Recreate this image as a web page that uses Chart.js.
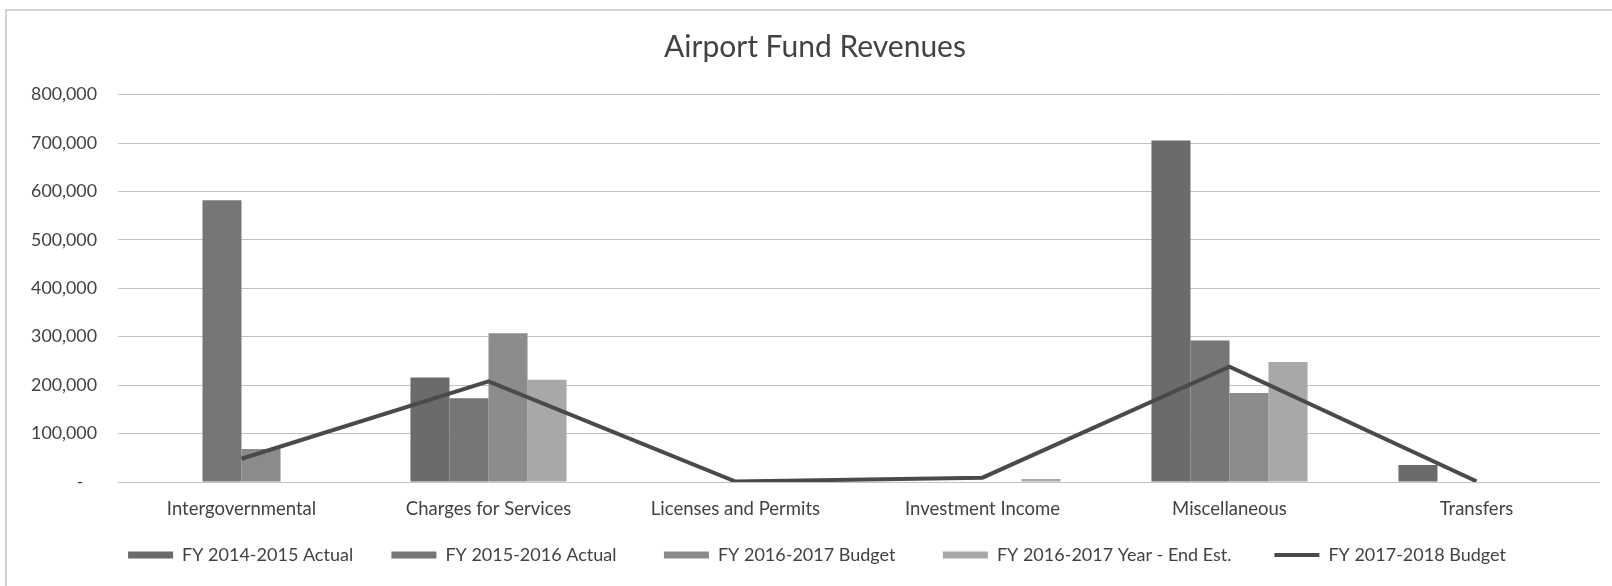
<!DOCTYPE html>
<html>
<head>
<meta charset="utf-8">
<title>Airport Fund Revenues</title>
<script src="https://cdn.jsdelivr.net/npm/chart.js@4.4.1/dist/chart.umd.min.js"></script>
<style>
  html, body { margin: 0; padding: 0; background: #ffffff; }
  #wrap { width: 1612px; height: 586px; position: relative; }
</style>
</head>
<body>
<div id="wrap"><canvas id="chart" width="1612" height="586"></canvas></div>
<script>
// Revenue categories along the x axis
const categories = [
  'Intergovernmental',
  'Charges for Services',
  'Licenses and Permits',
  'Investment Income',
  'Miscellaneous',
  'Transfers'
];

// Series values (dollars)
const fy1415Actual  = [0,      216000, 0,    0,     705000, 35000];
const fy1516Actual  = [582000, 173000, 0,    0,     292000, 0];
const fy1617Budget  = [68000,  307000, 0,    0,     184000, 0];
const fy1617YearEnd = [0,      211000, 0,    6000,  248000, 0];
const fy1718Budget  = [48000,  208000, 1000, 9000,  238000, 1500];

// Series names
const seriesNames = [
  'FY 2014-2015 Actual',
  'FY 2015-2016 Actual',
  'FY 2016-2017 Budget',
  'FY 2016-2017 Year - End Est.',
  'FY 2017-2018 Budget'
];

// Value axis ticks
const yTicks = [0, 100000, 200000, 300000, 400000, 500000, 600000, 700000, 800000];

const FONT = 'Lato, "Noto Sans", sans-serif';
const TEXT = '#424242';
const barColors = ['#6b6b6b', '#767676', '#8b8b8b', '#a8a8a8'];
const lineColor = '#4a4a4a';

// Extra space after each legend entry (in space characters)
const legendGaps = [7, 9, 9, 8, 0];

// Thin frame along the top and left edges
const framePlugin = {
  id: 'frame',
  beforeDraw(chart) {
    const ctx = chart.ctx;
    ctx.save();
    ctx.strokeStyle = '#c4c4c4';
    ctx.lineWidth = 1.5;
    ctx.beginPath();
    ctx.moveTo(6, chart.height);
    ctx.lineTo(6, 10);
    ctx.lineTo(chart.width, 10);
    ctx.stroke();
    ctx.restore();
  }
};

// Center the title and legend on the whole frame rather than the padded box
const centerPlugin = {
  id: 'centerBlocks',
  afterLayout(chart) {
    if (chart.titleBlock) chart.titleBlock.left += 20;
    if (chart.legend) chart.legend.left += 24;
  }
};

const barSeries = [fy1415Actual, fy1516Actual, fy1617Budget, fy1617YearEnd];

const datasets = barSeries.map((vals, i) => ({
  type: 'bar',
  label: seriesNames[i],
  data: vals,
  backgroundColor: barColors[i],
  borderWidth: 0,
  order: 2
}));

datasets.push({
  type: 'line',
  label: seriesNames[4],
  data: fy1718Budget,
  borderColor: lineColor,
  backgroundColor: lineColor,
  borderWidth: 4,
  pointRadius: 0,
  tension: 0,
  order: 1
});

new Chart(document.getElementById('chart'), {
  data: { labels: categories, datasets },
  plugins: [framePlugin, centerPlugin],
  options: {
    responsive: false,
    animation: false,
    layout: { padding: { left: 10, right: 12, top: 12, bottom: 12 } },
    datasets: {
      bar: { categoryPercentage: 0.632, barPercentage: 1.0 }
    },
    plugins: {
      title: {
        display: true,
        text: 'Airport Fund Revenues',
        color: TEXT,
        font: { family: FONT, size: 30, weight: 'normal' },
        padding: { top: 17, bottom: 29.6 }
      },
      legend: {
        position: 'bottom',
        labels: {
          color: TEXT,
          font: { family: FONT, size: 18 },
          usePointStyle: true,
          pointStyleWidth: 45,
          boxHeight: 7,
          padding: 6,
          generateLabels(chart) {
            return chart.data.datasets.map((ds, i) => ({
              text: ds.label + ' '.repeat(legendGaps[i]),
              fillStyle: ds.type === 'line' ? ds.borderColor : ds.backgroundColor,
              strokeStyle: ds.type === 'line' ? ds.borderColor : ds.backgroundColor,
              lineWidth: ds.type === 'line' ? 4 : 0,
              pointStyle: ds.type === 'line' ? 'line' : 'rect',
              fontColor: TEXT,
              hidden: false,
              datasetIndex: i
            }));
          }
        }
      },
      tooltip: { enabled: false }
    },
    scales: {
      x: {
        afterFit(scale) { scale.height = 58; },
        grid: { display: false, drawTicks: false },
        border: { display: false },
        ticks: {
          color: TEXT,
          font: { family: FONT, size: 18.5 },
          padding: 16,
          maxRotation: 0,
          autoSkip: false
        }
      },
      y: {
        min: yTicks[0],
        max: yTicks[yTicks.length - 1],
        afterFit(scale) { scale.width = 108; },
        afterBuildTicks(scale) { scale.ticks = yTicks.map(v => ({ value: v })); },
        grid: { color: '#c2c2c2', lineWidth: 1, drawTicks: false },
        border: { display: false },
        ticks: {
          color: TEXT,
          font: { family: FONT, size: 17.8 },
          padding: 21,
          callback(v) { return v === 0 ? '-   ' : v.toLocaleString('en-US'); }
        }
      }
    }
  }
});
</script>
</body>
</html>
